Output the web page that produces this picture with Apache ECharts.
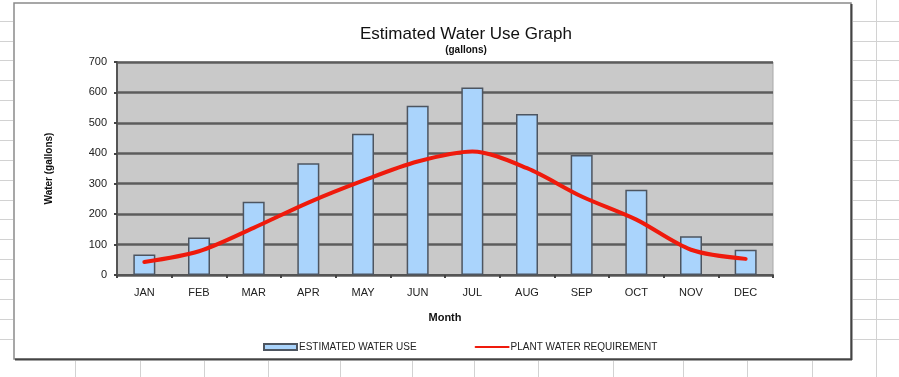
<!DOCTYPE html>
<html>
<head>
<meta charset="utf-8">
<script src="https://cdn.jsdelivr.net/npm/echarts@6/dist/echarts.min.js"></script>
<style>
  html, body { margin: 0; padding: 0; background: #fff; }
  #chart { width: 899px; height: 377px; }
</style>
</head>
<body>
<div id="chart"></div>
<script>
var months = ['JAN', 'FEB', 'MAR', 'APR', 'MAY', 'JUN', 'JUL', 'AUG', 'SEP', 'OCT', 'NOV', 'DEC'];
var waterUse = [67, 123, 241, 367, 464, 556, 616, 529, 394, 280, 127, 83];
var plantNeed = [43, 78, 155, 238, 310, 373, 406, 351, 258, 182, 83, 53];
var yTicks = [0, 100, 200, 300, 400, 500, 600, 700];

// spreadsheet cells behind the chart (decoration only)
var colX = [75, 140, 204, 268, 340, 412, 474, 538, 613, 683, 747, 812];
var sheet = [];
for (var k = 0; k < 17; k++) {
    var y = Math.round(20.7 + 19.87 * k) + 0.5;
    sheet.push({ type: 'line', shape: { x1: 0, y1: y, x2: 13, y2: y }, style: { stroke: '#d2d2d2', lineWidth: 1 } });
    sheet.push({ type: 'line', shape: { x1: 853, y1: y, x2: 899, y2: y }, style: { stroke: '#d2d2d2', lineWidth: 1 } });
}
sheet.push({ type: 'line', shape: { x1: 876.5, y1: 0, x2: 876.5, y2: 377 }, style: { stroke: '#d2d2d2', lineWidth: 1 } });
colX.forEach(function (x) {
    sheet.push({ type: 'line', shape: { x1: x + 0.5, y1: 361, x2: x + 0.5, y2: 377 }, style: { stroke: '#d2d2d2', lineWidth: 1 } });
});
// chart frame
sheet.push({ type: 'rect', shape: { x: 14, y: 3, width: 837, height: 356 }, style: { fill: 'none', stroke: '#8a8a8a', lineWidth: 1.5 } });
sheet.push({ type: 'line', shape: { x1: 851.5, y1: 4, x2: 851.5, y2: 360 }, style: { stroke: '#444', lineWidth: 2 } });
sheet.push({ type: 'line', shape: { x1: 15, y1: 359.5, x2: 852, y2: 359.5 }, style: { stroke: '#444', lineWidth: 2 } });

var chart = echarts.init(document.getElementById('chart'));

chart.setOption({
    animation: false,
    backgroundColor: '#fff',
    title: {
        text: 'Estimated Water Use Graph',
        subtext: '(gallons)',
        left: 461,
        top: 21,
        textAlign: 'center',
        itemGap: 2,
        textStyle: {
            fontFamily: 'Liberation Sans',
            fontSize: 17,
            fontWeight: 'normal',
            color: '#111'
        },
        subtextStyle: {
            fontFamily: 'Liberation Sans',
            fontSize: 10,
            fontWeight: 'bold',
            color: '#111'
        }
    },
    legend: {
        left: 258,
        top: 337,
        itemWidth: 33,
        itemHeight: 6,
        itemGap: 58,
        textStyle: {
            fontFamily: 'Liberation Sans',
            fontSize: 10,
            color: '#222',
            padding: [0, 0, 0, -3]
        },
        data: [
            { name: 'ESTIMATED WATER USE', icon: 'rect' },
            { name: 'PLANT WATER REQUIREMENT', itemStyle: { opacity: 0 } }
        ]
    },
    grid: {
        left: 117,
        right: 126,
        top: 62,
        bottom: 102,
        show: true,
        backgroundColor: '#c9c9c9',
        borderColor: '#a8a8a8',
        borderWidth: 1
    },
    xAxis: {
        type: 'category',
        data: months,
        name: 'Month',
        nameLocation: 'middle',
        nameGap: 37,
        nameTextStyle: {
            fontFamily: 'Liberation Sans',
            fontSize: 11,
            fontWeight: 'bold',
            color: '#111'
        },
        axisLine: { lineStyle: { color: '#555', width: 2 } },
        axisTick: { show: true, length: 3, lineStyle: { color: '#444', width: 2 } },
        axisLabel: {
            margin: 12,
            fontFamily: 'Liberation Sans',
            fontSize: 11,
            color: '#222'
        }
    },
    yAxis: {
        type: 'value',
        min: yTicks[0],
        max: yTicks[yTicks.length - 1],
        interval: 100,
        name: 'Water (gallons)',
        nameLocation: 'middle',
        nameGap: 63,
        nameTextStyle: {
            fontFamily: 'Liberation Sans',
            fontSize: 10,
            fontWeight: 'bold',
            color: '#111'
        },
        axisLine: { show: true, lineStyle: { color: '#555', width: 2 } },
        axisTick: { show: true, length: 3, lineStyle: { color: '#444', width: 2 } },
        axisLabel: {
            margin: 10,
            fontFamily: 'Liberation Sans',
            fontSize: 11,
            color: '#222'
        },
        splitLine: { lineStyle: { color: '#5c5c5c', width: 2.5 } }
    },
    series: [{
        name: 'ESTIMATED WATER USE',
        type: 'bar',
        barWidth: 22,
        itemStyle: {
            color: '#aad4fc',
            borderColor: '#4d5560',
            borderWidth: 1.5
        },
        data: waterUse
    }, {
        name: 'PLANT WATER REQUIREMENT',
        type: 'line',
        smooth: 0.3,
        symbol: 'none',
        z: 5,
        lineStyle: {
            color: '#ef1a0c',
            width: 4,
            cap: 'round',
            join: 'round'
        },
        itemStyle: { color: '#ef1a0c' },
        data: plantNeed
    }],
    graphic: sheet
});
</script>
</body>
</html>
